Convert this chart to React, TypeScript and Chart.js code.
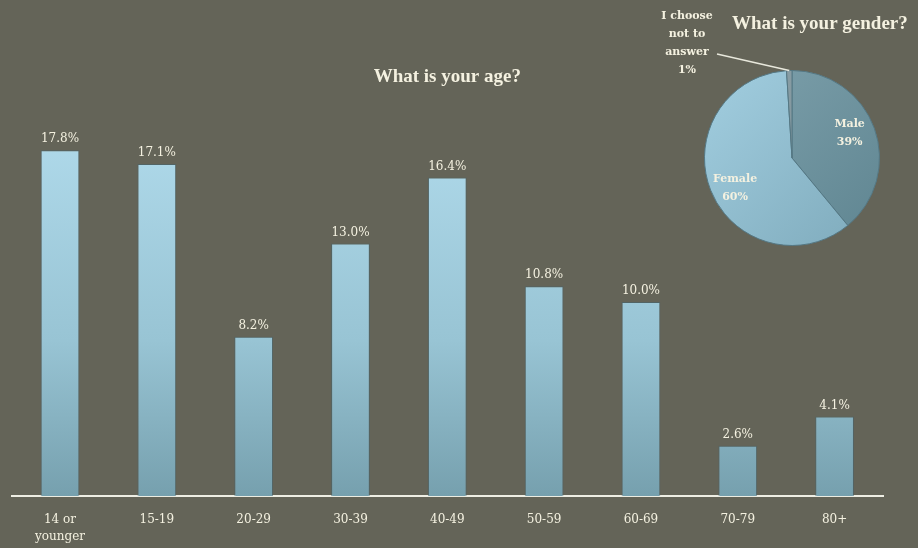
import React, { useEffect, useRef } from 'react';
import { Chart, registerables } from 'chart.js';

Chart.register(...registerables);

const ageCategories: (string | string[])[] = [['14 or', 'younger'], '15-19', '20-29', '30-39', '40-49', '50-59', '60-69', '70-79', '80+'];
const ageValues = [17.8, 17.1, 8.2, 13.0, 16.4, 10.8, 10.0, 2.6, 4.1];
const ageTitle = 'What is your age?';

const genderLabels = ['Male', 'Female', 'I choose not to answer'];
const genderLabelLines = [['Male'], ['Female'], ['I choose', 'not to', 'answer']];
const genderValues = [39, 60, 1];
const genderTitle = 'What is your gender?';

const BG = 'rgb(100,100,88)';
const TEXT = '#f4f1e0';
const SERIF = "'DejaVu Serif', serif";
const TITLE_FONT = "'Liberation Serif', serif";

const barLabelPlugin = {
  id: 'barLabels',
  afterDatasetsDraw(chart: any) {
    const { ctx } = chart;
    const meta = chart.getDatasetMeta(0);
    ctx.save();
    ctx.fillStyle = TEXT;
    ctx.font = `12px ${SERIF}`;
    ctx.textAlign = 'center';
    ctx.textBaseline = 'bottom';
    meta.data.forEach((bar: any, i: number) => {
      ctx.fillText(ageValues[i].toFixed(1) + '%', bar.x, bar.y - 5);
    });
    ctx.restore();
  },
};

const pieLabelPlugin = {
  id: 'pieLabels',
  afterDatasetsDraw(chart: any) {
    const { ctx } = chart;
    const meta = chart.getDatasetMeta(0);
    ctx.save();
    ctx.fillStyle = TEXT;
    ctx.font = `bold 19px ${TITLE_FONT}`;
    ctx.textAlign = 'left';
    ctx.textBaseline = 'alphabetic';
    ctx.fillText(genderTitle, 92, 29);

    ctx.font = `bold 11px ${SERIF}`;
    ctx.textAlign = 'center';
    ctx.textBaseline = 'middle';
    meta.data.forEach((arc: any, i: number) => {
      const pct = genderValues[i] + '%';
      const mid = (arc.startAngle + arc.endAngle) / 2;
      const lines = [...genderLabelLines[i], pct];
      const lh = 18;
      if (genderValues[i] >= 5) {
        const r = arc.outerRadius * 0.7;
        const x = arc.x + Math.cos(mid) * r;
        const y = arc.y + Math.sin(mid) * r + (i === 1 ? 8 : -4);
        lines.forEach((l, k) => ctx.fillText(l, x, y + (k - (lines.length - 1) / 2) * lh));
      } else {
        const ex = arc.x + Math.cos(mid) * arc.outerRadius;
        const ey = arc.y + Math.sin(mid) * arc.outerRadius;
        const lx = 47;
        const top = 16;
        lines.forEach((l, k) => ctx.fillText(l, lx, top + k * lh));
        ctx.strokeStyle = '#e8e8dc';
        ctx.lineWidth = 1.5;
        ctx.beginPath();
        ctx.moveTo(lx + 30, top + 2 * lh + 2);
        ctx.lineTo(ex, ey);
        ctx.stroke();
      }
    });
    ctx.restore();
  },
};

export default function App() {
  const barRef = useRef<HTMLCanvasElement>(null);
  const pieRef = useRef<HTMLCanvasElement>(null);

  useEffect(() => {
    document.body.style.margin = '0';
    document.body.style.background = BG;
    const bar = new Chart(barRef.current!, {
      type: 'bar',
      data: {
        labels: ageCategories as any,
        datasets: [
          {
            data: ageValues,
            backgroundColor: (c: any) => {
              const area = c.chart.chartArea;
              if (!area) return '#9ccadb';
              const g = c.chart.ctx.createLinearGradient(0, area.top, 0, area.bottom);
              g.addColorStop(0, '#b2dced');
              g.addColorStop(0.6, '#98c4d4');
              g.addColorStop(1, '#76a0ae');
              return g;
            },
            borderColor: 'rgba(70,100,110,0.6)',
            borderWidth: 1,
            barPercentage: 0.4,
            categoryPercentage: 1,
          },
        ],
      },
      options: {
        responsive: false,
        animation: false,
        layout: { padding: { left: 11.6, right: 35, top: 0, bottom: 3.8 } },
        plugins: {
          legend: { display: false },
          tooltip: { enabled: false },
          title: {
            display: true,
            text: ageTitle,
            color: TEXT,
            font: { family: TITLE_FONT, size: 19, weight: 'bold', lineHeight: 1.2 },
            padding: { top: 65.6, bottom: 19.2 },
          },
        },
        scales: {
          x: {
            offset: true,
            grid: { display: false, drawTicks: false, tickLength: 0 },
            border: { display: true, color: '#eeeee4', width: 2 },
            ticks: {
              color: TEXT,
              font: { family: SERIF, size: 12, lineHeight: 1.45 },
              padding: 15,
              maxRotation: 0,
              autoSkip: false,
            },
            afterFit: (scale: any) => {
              scale.height = 48;
            },
          },
          y: { display: false, min: 0, max: 20 },
        },
      },
      plugins: [barLabelPlugin],
    });

    const pie = new Chart(pieRef.current!, {
      type: 'pie',
      data: {
        labels: genderLabels,
        datasets: [
          {
            data: genderValues,
            backgroundColor: (c: any) => {
              const area = c.chart.chartArea;
              const base = ['#7fa2ad', '#a2cee0', '#8ea3aa'];
              const dark = ['#5f8591', '#7eaabb', '#74888f'];
              if (!area) return base[c.dataIndex];
              const g = c.chart.ctx.createLinearGradient(area.left, area.top, area.right, area.bottom);
              g.addColorStop(0, base[c.dataIndex]);
              g.addColorStop(1, dark[c.dataIndex]);
              return g;
            },
            borderColor: '#557884',
            borderWidth: 1,
          },
        ],
      },
      options: {
        responsive: false,
        animation: false,
        rotation: 0,
        layout: { padding: { left: 64, right: 38, top: 70, bottom: 14 } },
        plugins: {
          legend: { display: false },
          tooltip: { enabled: false },
          title: { display: false },
        },
      },
      plugins: [pieLabelPlugin],
    });

    return () => {
      bar.destroy();
      pie.destroy();
    };
  }, []);

  return (
    <div style={{ position: 'absolute', left: 0, top: 0, width: 918, height: 548, background: BG, overflow: 'hidden' }}>
      <canvas ref={barRef} width={918} height={548} style={{ position: 'absolute', left: 0, top: 0 }} />
      <canvas ref={pieRef} width={278} height={260} style={{ position: 'absolute', left: 640, top: 0 }} />
    </div>
  );
}
